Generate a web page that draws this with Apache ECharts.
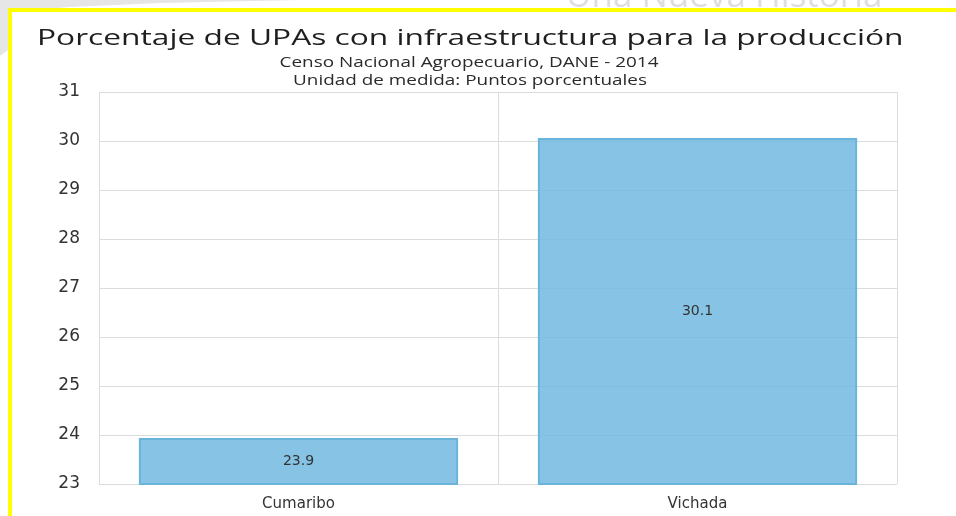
<!DOCTYPE html>
<html lang="es">
<head>
    <title>UPAs</title>
    <meta charset="utf-8">
    <style>
        html, body { margin: 0; padding: 0; background: #fff; }
    </style>
</head>
<body>
<script type="text/javascript" src="https://cdn.jsdelivr.net/npm/echarts@6/dist/echarts.min.js"></script>
<div id="main" style="width: 956px;height: 516px"></div>
<script type="text/javascript">
    var categories = ['Cumaribo', 'Vichada'];
    var values = [23.94, 30.06];
    var yTicks = [23, 24, 25, 26, 27, 28, 29, 30, 31];

    var titleText = 'Porcentaje de UPAs con infraestructura para la producción';
    var subtitles = ['Censo Nacional Agropecuario, DANE - 2014', 'Unidad de medida: Puntos porcentuales'];

    var font = '"Open Sans", "Noto Sans", sans-serif';
    var wide = '"DejaVu Sans", sans-serif';
    var myChart = echarts.init(document.getElementById('main'));

    // textos del titulo, algo estirados a lo ancho como en la imagen original
    function stretchedText(str, x, y, size, sx, align, color) {
        return {
            type: 'text',
            x: x,
            y: y,
            scaleX: sx,
            z: 10,
            style: {
                text: str,
                x: 0,
                y: 0,
                font: size + 'px ' + font,
                fill: color,
                align: align,
                verticalAlign: 'middle',
                textAlign: align,
                textVerticalAlign: 'middle'
            }
        };
    }

    var option = {
        animation: false,
        backgroundColor: '#fff',
        graphic: [
            // fondo gris de la esquina
            {
                type: 'polygon',
                z: 0,
                shape: { points: [[0, 0], [300, 0], [160, 3], [70, 7], [8, 12], [8, 50], [0, 56]] },
                style: { fill: '#e6e6e6' }
            },
            // marca de agua cortada arriba
            {
                type: 'text',
                x: 566,
                y: -3,
                z: 0,
                style: {
                    text: 'Una Nueva Historia', x: 0, y: 0,
                    font: '35px ' + font, fill: '#dedede',
                    verticalAlign: 'middle', textVerticalAlign: 'middle'
                }
            },
            // marco amarillo
            { type: 'rect', shape: { x: 8, y: 8, width: 948, height: 4 }, style: { fill: '#ffff00' }, z: 5 },
            { type: 'rect', shape: { x: 8, y: 8, width: 4, height: 508 }, style: { fill: '#ffff00' }, z: 5 },
            stretchedText(titleText, 37, 39, 21, 1.51, 'left', '#1e1e1e'),
            stretchedText(subtitles[0], 469, 63, 14, 1.35, 'center', '#2a2a2a'),
            stretchedText(subtitles[1], 470, 81, 14, 1.35, 'center', '#2a2a2a')
        ],
        grid: { left: 99, right: 59, top: 92, bottom: 32 },
        xAxis: {
            type: 'category',
            data: categories,
            axisLine: { show: false },
            axisTick: { show: false },
            splitLine: { show: true, lineStyle: { color: '#dcdcdc' } },
            axisLabel: { fontFamily: wide, fontSize: 15, color: '#333', margin: 13 }
        },
        yAxis: {
            type: 'value',
            min: yTicks[0],
            max: yTicks[yTicks.length - 1],
            interval: 1,
            axisLine: { show: true, lineStyle: { color: '#dcdcdc' } },
            axisTick: { show: false },
            splitLine: { lineStyle: { color: '#dcdcdc' } },
            axisLabel: { fontFamily: wide, fontSize: 17, color: '#333', margin: 19 }
        },
        series: [{
            type: 'bar',
            data: values,
            barWidth: '80%',
            itemStyle: {
                color: 'rgba(108,182,222,0.82)',
                borderColor: '#6ab4dc',
                borderWidth: 2
            },
            label: {
                show: true,
                position: 'inside',
                fontFamily: wide,
                fontSize: 14,
                color: '#333',
                formatter: function (p) { return p.value.toFixed(1); }
            }
        }]
    };
    myChart.setOption(option);
</script>
</body>
</html>
